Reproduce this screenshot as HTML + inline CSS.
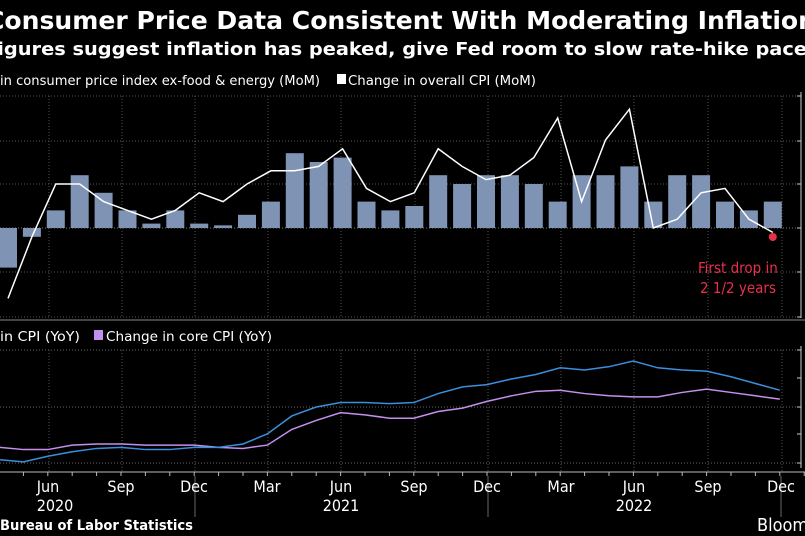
<!DOCTYPE html>
<html><head><meta charset="utf-8"><style>
html,body{margin:0;padding:0;background:#000;width:805px;height:536px;overflow:hidden}
svg{display:block}
text{font-family:"DejaVu Sans Condensed","DejaVu Sans","Liberation Sans",sans-serif;fill:#fff}
</style></head><body>
<svg id="s" width="805" height="536" viewBox="0 0 805 536" xmlns="http://www.w3.org/2000/svg">
<text x="-14" y="29" font-size="25" font-weight="bold" textLength="830" lengthAdjust="spacingAndGlyphs">Consumer Price Data Consistent With Moderating Inflation</text>
<text x="-16" y="55" font-size="18" font-weight="bold" fill="#f2f2f2" textLength="823" lengthAdjust="spacingAndGlyphs">Figures suggest inflation has peaked, give Fed room to slow rate-hike pace</text>
<text x="0" y="85" font-size="13.5" textLength="320" lengthAdjust="spacingAndGlyphs">in consumer price index ex-food &amp; energy (MoM)</text>
<rect x="337" y="74" width="9" height="10" fill="#fff"/>
<text x="348" y="85" font-size="13.5" textLength="188" lengthAdjust="spacingAndGlyphs">Change in overall CPI (MoM)</text>
<g id="gtop"></g>
<text x="698" y="273" font-size="15" style="fill:#e8304a">First drop in</text>
<text x="700" y="293" font-size="15" style="fill:#e8304a">2 1/2 years</text>
<line x1="0" y1="320" x2="805" y2="320" stroke="#444" stroke-width="2"/>
<text x="0" y="341" font-size="13.5" textLength="80" lengthAdjust="spacingAndGlyphs">in CPI (YoY)</text>
<rect x="94" y="330" width="9" height="10" fill="#c490f0"/>
<text x="106" y="341" font-size="13.5" textLength="166" lengthAdjust="spacingAndGlyphs">Change in core CPI (YoY)</text>
<g id="gbot"></g>
<g font-size="16" text-anchor="middle">
<text x="48" y="492">Jun</text><text x="121" y="492">Sep</text><text x="194" y="492">Dec</text>
<text x="267" y="492">Mar</text><text x="341" y="492">Jun</text><text x="414" y="492">Sep</text>
<text x="487" y="492">Dec</text><text x="561" y="492">Mar</text><text x="634" y="492">Jun</text>
<text x="708" y="492">Sep</text><text x="781" y="492">Dec</text>
<text x="55" y="511">2020</text><text x="341" y="511">2021</text><text x="634" y="511">2022</text>
</g>
<text x="0" y="530" font-size="14" font-weight="bold" textLength="193" lengthAdjust="spacingAndGlyphs">Bureau of Labor Statistics</text>
<text x="757" y="531" font-size="18">Bloomberg</text>
</svg>
<script>
(function(){
var NS="http://www.w3.org/2000/svg";
function el(p,t,a){var e=document.createElementNS(NS,t);for(var k in a)e.setAttribute(k,a[k]);p.appendChild(e);return e;}
var gt=document.getElementById("gtop"),gb=document.getElementById("gbot");
var vx=[49,122,195,268,341,415,488,561,634,708,782];
[96,141,184,272,317].forEach(function(y){el(gt,"line",{x1:0,x2:800,y1:y,y2:y,stroke:"#555","stroke-dasharray":"1,2"});});
vx.forEach(function(x){el(gt,"line",{x1:x,x2:x,y1:96,y2:318,stroke:"#555","stroke-dasharray":"1,2"});});
el(gt,"line",{x1:0,x2:800,y1:228,y2:228,stroke:"#777","stroke-dasharray":"1,2"});
el(gt,"line",{x1:801,x2:801,y1:92,y2:318,stroke:"#ccc"});
[96,141,184,228,272,317].forEach(function(y){el(gt,"line",{x1:797,x2:801,y1:y,y2:y,stroke:"#ccc"});});
var core=[-0.45,-0.1,0.2,0.6,0.4,0.2,0.05,0.2,0.05,0.03,0.15,0.3,0.85,0.75,0.8,0.3,0.2,0.25,0.6,0.5,0.6,0.6,0.5,0.3,0.6,0.6,0.7,0.3,0.6,0.6,0.3,0.2,0.3];
var head=[-0.8,-0.1,0.5,0.5,0.3,0.2,0.1,0.2,0.4,0.3,0.5,0.65,0.65,0.7,0.9,0.45,0.3,0.4,0.9,0.7,0.55,0.6,0.8,1.25,0.3,1.0,1.35,0.0,0.1,0.4,0.45,0.1,-0.05];
function tx(i){return 8+i*23.9;}
function ty(v){return 228-v*88;}
core.forEach(function(v,i){var y=ty(v);el(gt,"rect",{x:tx(i)-9,y:Math.min(y,228),width:18,height:Math.abs(228-y),fill:"#7f93b5"});});
el(gt,"polyline",{points:head.map(function(v,i){return tx(i)+","+ty(v);}).join(" "),fill:"none",stroke:"#fff","stroke-width":1.5});
el(gt,"circle",{cx:tx(32),cy:237,r:4,fill:"#e8304a"});
[350,407,463].forEach(function(y){el(gb,"line",{x1:0,x2:800,y1:y,y2:y,stroke:"#666","stroke-dasharray":"1,2"});});
vx.forEach(function(x){el(gb,"line",{x1:x,x2:x,y1:350,y2:472,stroke:"#555","stroke-dasharray":"1,2"});});
el(gb,"line",{x1:801,x2:801,y1:346,y2:468,stroke:"#ccc"});
[350,378,407,434,463].forEach(function(y){el(gb,"line",{x1:797,x2:801,y1:y,y2:y,stroke:"#ccc"});});
el(gb,"line",{x1:0,x2:805,y1:472,y2:472,stroke:"#bbb"});
for(var i=0;i<34;i++){var x=-1+i*24.4;el(gb,"line",{x1:x,x2:x,y1:472,y2:476,stroke:"#bbb"});}
[195,488,781].forEach(function(x){el(gb,"line",{x1:x,x2:x,y1:476,y2:517,stroke:"#666"});});
var cpi=[0.3,0.1,0.6,1.0,1.3,1.4,1.2,1.2,1.4,1.4,1.7,2.6,4.2,5.0,5.4,5.4,5.3,5.4,6.2,6.8,7.0,7.5,7.9,8.5,8.3,8.6,9.1,8.5,8.3,8.2,7.7,7.1,6.5];
var cc=[1.4,1.2,1.2,1.6,1.7,1.7,1.6,1.6,1.6,1.4,1.3,1.6,3.0,3.8,4.5,4.3,4.0,4.0,4.6,4.9,5.5,6.0,6.4,6.5,6.2,6.0,5.9,5.9,6.3,6.6,6.3,6.0,5.7];
function bx(i){return -1+i*24.4;}function by(v){return 463-v*11.2;}
el(gb,"polyline",{points:cc.map(function(v,i){return bx(i)+","+by(v);}).join(" "),fill:"none",stroke:"#c490f0","stroke-width":1.5});
el(gb,"polyline",{points:cpi.map(function(v,i){return bx(i)+","+by(v);}).join(" "),fill:"none",stroke:"#3a8fdc","stroke-width":1.5});
})();
</script>
</body></html>
